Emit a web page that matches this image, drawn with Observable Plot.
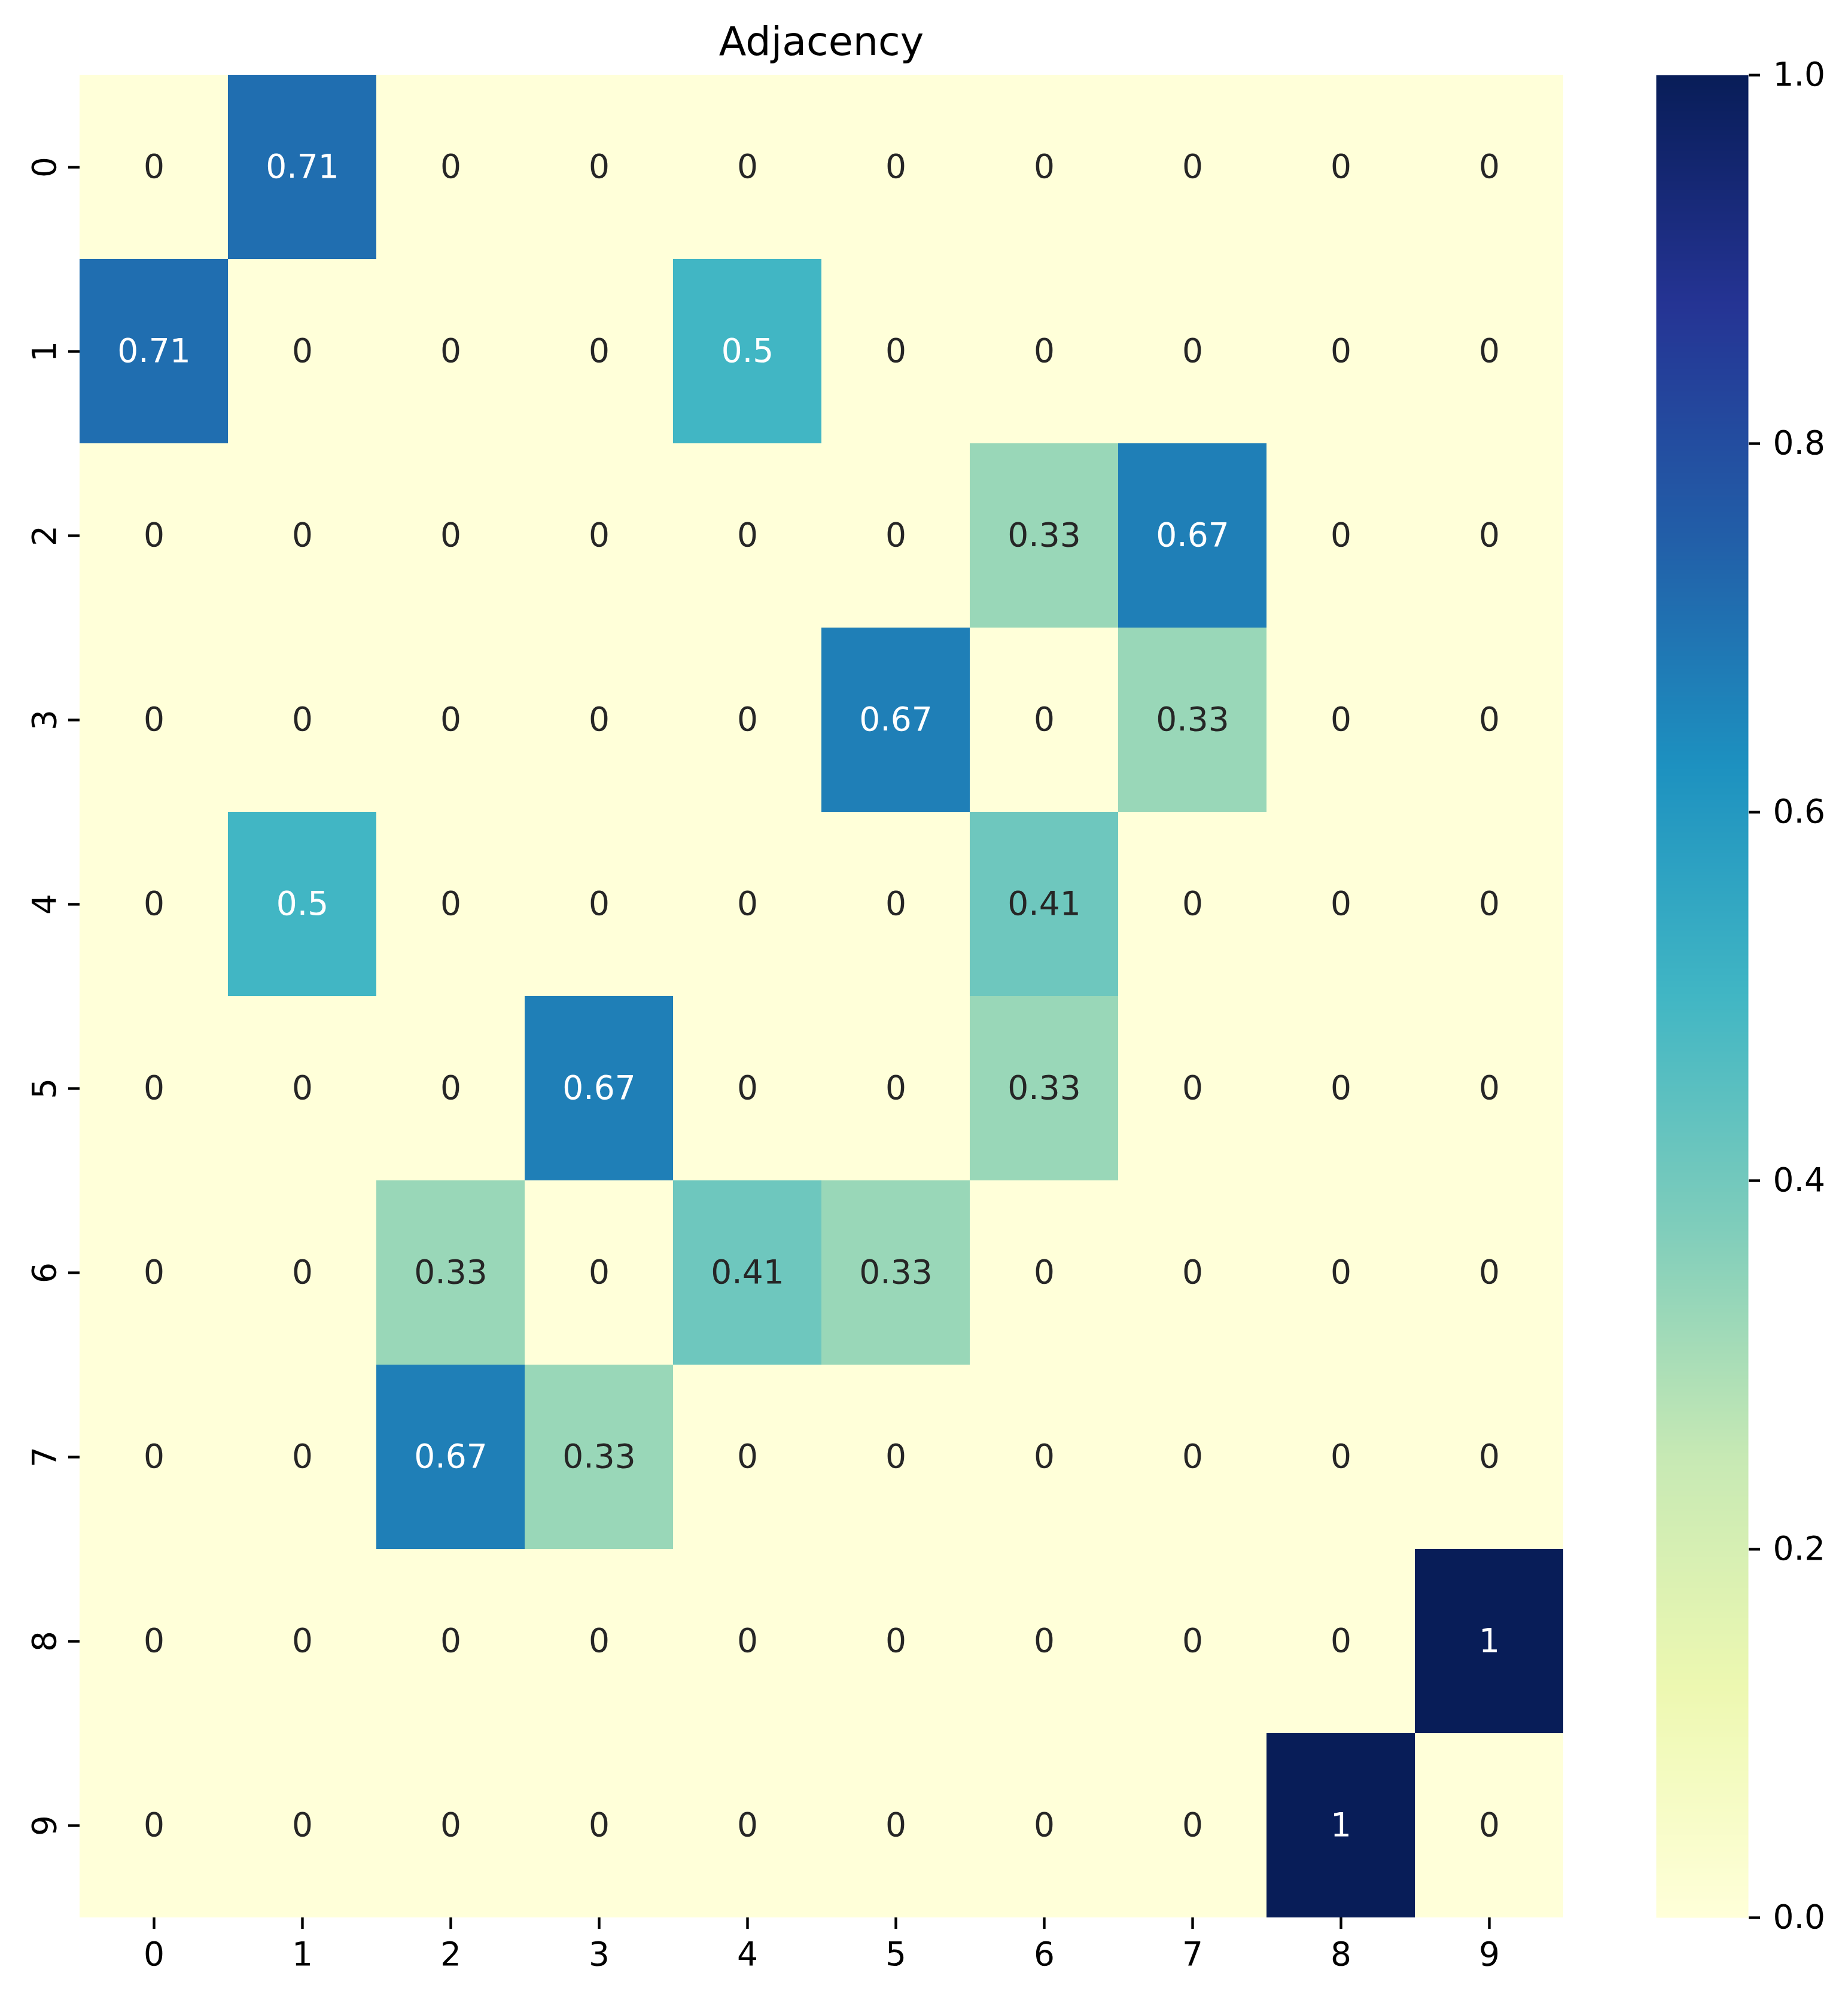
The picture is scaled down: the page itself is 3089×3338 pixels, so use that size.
<!DOCTYPE html>
<html>
<head>
<meta charset="utf-8">
<script src="https://cdn.jsdelivr.net/npm/d3@7"></script>
<script src="https://cdn.jsdelivr.net/npm/@observablehq/plot@0.6"></script>
<style>
  body { margin: 0; background: #ffffff; }
  #wrap { position: relative; width: 3089px; height: 3338px; font-family: "DejaVu Sans", sans-serif; }
  #title { position: absolute; left: 0; top: 36px; width: 2746px; text-align: center; font-size: 66.7px; line-height: 1; color: #000; }
  .abs { position: absolute; top: 0; }
</style>
</head>
<body>
<div id="wrap"><div id="title">Adjacency</div></div>
<script>
// ---- data ----
const nodes = [0, 1, 2, 3, 4, 5, 6, 7, 8, 9];
const adjacency = [
  [0,    0.71, 0,    0,    0,    0,    0,    0,    0, 0],
  [0.71, 0,    0,    0,    0.5,  0,    0,    0,    0, 0],
  [0,    0,    0,    0,    0,    0,    0.33, 0.67, 0, 0],
  [0,    0,    0,    0,    0,    0.67, 0,    0.33, 0, 0],
  [0,    0.5,  0,    0,    0,    0,    0.41, 0,    0, 0],
  [0,    0,    0,    0.67, 0,    0,    0.33, 0,    0, 0],
  [0,    0,    0.33, 0,    0.41, 0.33, 0,    0,    0, 0],
  [0,    0,    0.67, 0.33, 0,    0,    0,    0,    0, 0],
  [0,    0,    0,    0,    0,    0,    0,    0,    0, 1],
  [0,    0,    0,    0,    0,    0,    0,    0,    1, 0]
];
const colorStops = [0, 0.125, 0.25, 0.375, 0.5, 0.625, 0.75, 0.875, 1];
const colorRange = ["#ffffd9", "#edf8b1", "#c7e9b4", "#7fcdbb", "#41b6c4", "#1d91c0", "#225ea8", "#253494", "#081d58"];
const cbarTicks = [0, 0.2, 0.4, 0.6, 0.8, 1.0];

// ---- table ----
const table = [];
adjacency.forEach((row, i) => row.forEach((v, j) => table.push({row: nodes[i], col: nodes[j], v})));

const colorScale = {type: "linear", domain: colorStops, range: colorRange, interpolate: "rgb"};
const font = {fontFamily: "DejaVu Sans", fontSize: "55px", background: "transparent", color: "#000"};

const main = Plot.plot({
  width: 3089, height: 3338,
  marginLeft: 133, marginRight: 476, marginTop: 125, marginBottom: 133,
  style: font,
  x: {type: "band", domain: nodes, padding: 0, label: null},
  y: {type: "band", domain: nodes, padding: 0, label: null},
  color: colorScale,
  marks: [
    Plot.cell(table, {x: "col", y: "row", fill: "v"}),
    Plot.text(table, {filter: d => d.v >= 0.45, x: "col", y: "row", text: d => String(d.v), fill: "#ffffff", fontSize: 55}),
    Plot.text(table, {filter: d => d.v < 0.45, x: "col", y: "row", text: d => String(d.v), fill: "#262626", fontSize: 55}),
    Plot.axisX({anchor: "bottom", tickSize: 19, tickPadding: 21, strokeWidth: 4.4, fontSize: 55, label: null}),
    Plot.axisY({anchor: "left", tickSize: 19, tickPadding: 22, tickRotate: -90, strokeWidth: 4.4, fontSize: 55, label: null})
  ]
});
main.classList.add("abs");
main.style.left = "0px";
document.getElementById("wrap").appendChild(main);

const cbar = Plot.plot({
  width: 389, height: 3338,
  marginLeft: 68, marginRight: 167, marginTop: 125, marginBottom: 133,
  style: font,
  x: {domain: [0, 1], axis: null},
  y: {domain: [0, 1], axis: null},
  color: colorScale,
  marks: [
    Plot.raster({x1: 0, x2: 1, y1: 0, y2: 1, fill: (x, y) => y, pixelSize: 1}),
    Plot.axisY({anchor: "right", ticks: cbarTicks, tickFormat: d3.format(".1f"), tickSize: 19, tickPadding: 22, strokeWidth: 4.4, fontSize: 55, label: null})
  ]
});
cbar.classList.add("abs");
cbar.style.left = "2700px";
document.getElementById("wrap").appendChild(cbar);
</script>
</body>
</html>
